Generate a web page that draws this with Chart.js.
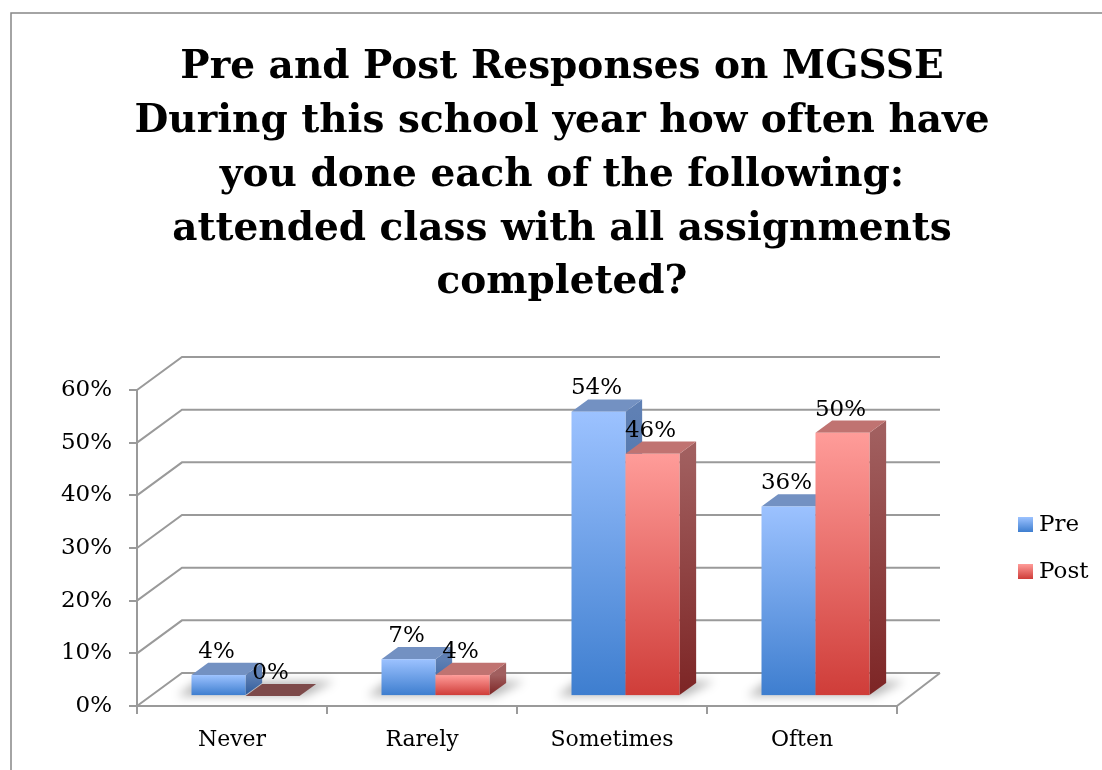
<!DOCTYPE html>
<html>
<head>
<meta charset="utf-8">
<script src="https://cdn.jsdelivr.net/npm/chart.js@4.4.0/dist/chart.umd.min.js"></script>
<style>
  html, body { margin: 0; padding: 0; background: #fff; overflow: hidden; }
</style>
</head>
<body>
<canvas id="chart" width="1102" height="770"></canvas>
<script>
// data
const categories = ['Never', 'Rarely', 'Sometimes', 'Often'];
const preValues = [4, 7, 54, 36];
const postValues = [0, 4, 46, 50];
const seriesNames = ['Pre', 'Post'];
const yTickValues = [0, 10, 20, 30, 40, 50, 60];
const titleLines = [
    'Pre and Post Responses on MGSSE',
    'During this school year how often have',
    'you done each of the following:',
    'attended class with all assignments',
    'completed?'
];

// look of each series: front top/bottom, top face, side top/bottom, flat (0%) top
const seriesLook = [
    { front: ['#9cc2ff', '#3e7ecf'], top: '#7391c2', side: ['#5f80b4', '#2f5c9c'], flat: '#5f7fb2' },
    { front: ['#ff9c99', '#cf3d39'], top: '#c07371', side: ['#a15f5f', '#7d2525'], flat: '#7d4a4a' }
];

const SERIF = '"DejaVu Serif", "Liberation Serif", serif';
const GRID = '#9a9a9a';
// full depth of the box (walls / floor) and where the bars sit inside it
const DEPTH = { dx: 45, dy: -33 };
const BAR_FRONT = 0.3;
const BAR_DEPTH = 0.37;

function vGrad(ctx, y0, y1, c0, c1) {
    const g = ctx.createLinearGradient(0, y0, 0, y1);
    g.addColorStop(0, c0);
    g.addColorStop(1, c1);
    return g;
}

function poly(ctx, pts, fill) {
    ctx.beginPath();
    ctx.moveTo(pts[0][0], pts[0][1]);
    for (let i = 1; i < pts.length; i++) ctx.lineTo(pts[i][0], pts[i][1]);
    ctx.closePath();
    ctx.fillStyle = fill;
    ctx.fill();
}

// frame, title, walls, floor, shadows
const backdrop = {
    id: 'backdrop',
    beforeDraw(chart) {
        const ctx = chart.ctx;
        ctx.save();
        ctx.strokeStyle = '#878787';
        ctx.lineWidth = 1.5;
        ctx.strokeRect(11, 13, 1200, 900);

        ctx.fillStyle = '#000';
        ctx.font = 'bold 39px ' + SERIF;
        ctx.textAlign = 'center';
        ctx.textBaseline = 'middle';
        titleLines.forEach((t, i) => ctx.fillText(t, 562, 68 + i * 53.8));
        ctx.restore();
    },
    beforeDatasetsDraw(chart) {
        const ctx = chart.ctx;
        const y = chart.scales.y;
        const { left, right, bottom } = chart.chartArea;
        ctx.save();
        ctx.strokeStyle = GRID;
        ctx.lineWidth = 2;
        // side wall + back wall gridlines
        yTickValues.forEach(v => {
            const yp = y.getPixelForValue(v);
            ctx.beginPath();
            ctx.moveTo(left, yp);
            ctx.lineTo(left + DEPTH.dx, yp + DEPTH.dy);
            ctx.lineTo(right + DEPTH.dx - 2, yp + DEPTH.dy);
            ctx.stroke();
        });
        // right edge of the floor
        ctx.beginPath();
        ctx.moveTo(right, bottom);
        ctx.lineTo(right + DEPTH.dx - 2, bottom + DEPTH.dy);
        ctx.stroke();

        // soft shadows under each bar pair
        const m0 = chart.getDatasetMeta(0), m1 = chart.getDatasetMeta(1);
        ctx.filter = 'blur(5px)';
        ctx.fillStyle = 'rgba(0,0,0,0.28)';
        for (let i = 0; i < categories.length; i++) {
            const a = m0.data[i], b = m1.data[i];
            const x0 = a.x - a.width / 2 + DEPTH.dx * BAR_FRONT - 14;
            const x1 = b.x + b.width / 2 + DEPTH.dx * BAR_FRONT + 6;
            const yb = a.base + DEPTH.dy * BAR_FRONT;
            const ddx = DEPTH.dx * (BAR_DEPTH + 0.05), ddy = DEPTH.dy * (BAR_DEPTH + 0.05);
            ctx.beginPath();
            ctx.moveTo(x0, yb + 1);
            ctx.lineTo(x0 + ddx, yb + ddy);
            ctx.lineTo(x1 + ddx + 10, yb + ddy);
            ctx.lineTo(x1, yb + 1);
            ctx.closePath();
            ctx.fill();
        }
        ctx.restore();
    }
};

// 3D boxes drawn on the positions the bar elements got from the scales
const bars3d = {
    id: 'bars3d',
    afterDatasetsDraw(chart) {
        const ctx = chart.ctx;
        const ox = DEPTH.dx * BAR_FRONT, oy = DEPTH.dy * BAR_FRONT;
        const dx = DEPTH.dx * BAR_DEPTH, dy = DEPTH.dy * BAR_DEPTH;
        const metas = [chart.getDatasetMeta(0), chart.getDatasetMeta(1)];
        const labels = [];
        ctx.save();
        for (let i = 0; i < categories.length; i++) {
            metas.forEach((meta, s) => {
                const el = meta.data[i];
                const look = seriesLook[s];
                const x0 = el.x - el.width / 2 + ox, x1 = el.x + el.width / 2 + ox;
                const yt = el.y + oy, yb = el.base + oy;
                const flat = yb - yt < 1;
                // side
                if (!flat) {
                    poly(ctx, [[x1, yt], [x1 + dx, yt + dy], [x1 + dx, yb + dy], [x1, yb]],
                        vGrad(ctx, yt, yb, look.side[0], look.side[1]));
                }
                // top
                poly(ctx, [[x0, yt], [x0 + dx, yt + dy], [x1 + dx, yt + dy], [x1, yt]],
                    flat ? look.flat : look.top);
                // front
                if (!flat) {
                    ctx.fillStyle = vGrad(ctx, yt, yb, look.front[0], look.front[1]);
                    ctx.fillRect(x0, yt, x1 - x0, yb - yt);
                }
                const v = chart.data.datasets[s].data[i];
                labels.push([v + '%', (x0 + x1) / 2 - 2, yt + dy - 5]);
            });
        }
        // value labels on top of everything
        ctx.fillStyle = '#000';
        ctx.font = '23px ' + SERIF;
        ctx.textAlign = 'center';
        ctx.textBaseline = 'alphabetic';
        labels.forEach(l => ctx.fillText(l[0], l[1], l[2]));

        // legend
        const lx = 1018, ly = [524, 571];
        seriesNames.forEach((name, s) => {
            const look = seriesLook[s];
            ctx.fillStyle = vGrad(ctx, ly[s] - 7, ly[s] + 8, look.front[0], look.front[1]);
            ctx.fillRect(lx, ly[s] - 7, 15, 15);
            ctx.fillStyle = '#000';
            ctx.textAlign = 'left';
            ctx.textBaseline = 'middle';
            ctx.fillText(name, lx + 21, ly[s] + 1);
        });
        ctx.restore();
    }
};

new Chart(document.getElementById('chart'), {
    type: 'bar',
    data: {
        labels: categories,
        datasets: [
            { label: seriesNames[0], data: preValues, backgroundColor: 'rgba(0,0,0,0)' },
            { label: seriesNames[1], data: postValues, backgroundColor: 'rgba(0,0,0,0)' }
        ]
    },
    options: {
        responsive: false,
        devicePixelRatio: 1,
        animation: false,
        categoryPercentage: 108 / 190,
        barPercentage: 1,
        layout: { padding: { left: 0, top: 390, right: 205, bottom: 14 } },
        plugins: {
            legend: { display: false },
            title: { display: false },
            tooltip: { enabled: false }
        },
        scales: {
            y: {
                min: 0,
                max: 60,
                afterFit(scale) { scale.width = 137; },
                afterBuildTicks(scale) { scale.ticks = yTickValues.map(v => ({ value: v })); },
                ticks: {
                    callback: v => v + '%',
                    color: '#000',
                    font: { family: SERIF, size: 23 },
                    padding: 17
                },
                grid: { drawOnChartArea: false, tickLength: 8, color: GRID, lineWidth: 2 },
                border: { display: true, color: GRID, width: 2 }
            },
            x: {
                afterFit(scale) { scale.height = 50; },
                ticks: {
                    color: '#000',
                    font: { family: SERIF, size: 22 },
                    padding: 13
                },
                grid: { offset: true, drawOnChartArea: false, tickLength: 8, color: GRID, lineWidth: 2 },
                border: { display: true, color: GRID, width: 2 }
            }
        }
    },
    plugins: [backdrop, bars3d]
});
</script>
</body>
</html>
